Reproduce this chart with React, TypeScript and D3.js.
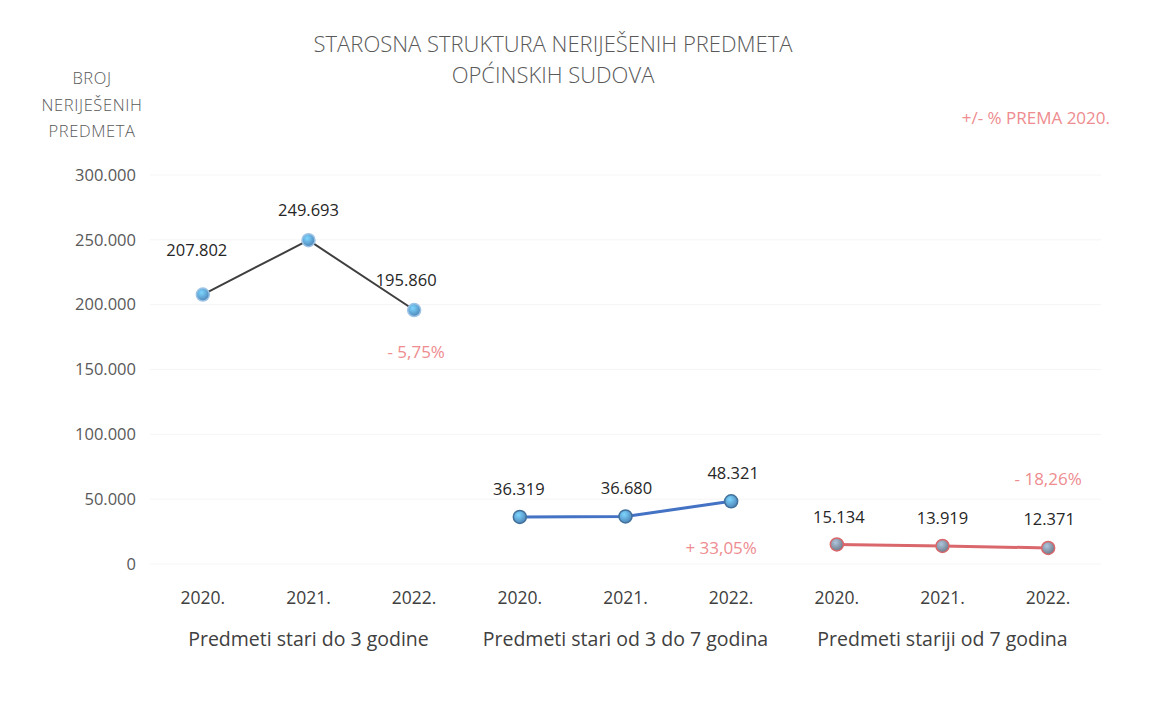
import React, { useEffect, useRef } from 'react'
import * as d3 from 'd3'

const years = ['2020.', '2021.', '2022.']
const groups = ['Predmeti stari do 3 godine', 'Predmeti stari od 3 do 7 godina', 'Predmeti stariji od 7 godina']
const groupValues = [
  [207802, 249693, 195860],
  [36319, 36680, 48321],
  [15134, 13919, 12371],
]
const changes = ['- 5,75%', '+ 33,05%', '- 18,26%']
const yTicks = [0, 50000, 100000, 150000, 200000, 250000, 300000]

const lineColors = ['#3f3f3f', '#4472c4', '#d9676b']
const markerFill = ['#5b9bd5', '#5b9bd5', '#7f8fa0']
const markerStroke = ['#9dc3e6', '#41719c', '#d9676b']

const W = 1150
const H = 711
const fmt = (v: number) => d3.format(',')(v).replace(/,/g, '.')

const App = () => {
  const svgRef = useRef<SVGSVGElement>(null)

  useEffect(() => {
    const svg = d3.select(svgRef.current)
    svg.selectAll('*').remove()
    const font = '"Open Sans", sans-serif'

    const keys = groups.flatMap((g, gi) => years.map((yr) => `${gi}-${yr}`))
    const x = d3.scalePoint<string>().domain(keys).range([150, 1101]).padding(0.5)
    const y = d3.scaleLinear().domain([0, 300000]).range([564, 175])

    // title
    svg
      .append('g')
      .selectAll('text')
      .data(['STAROSNA STRUKTURA NERIJEŠENIH PREDMETA', 'OPĆINSKIH SUDOVA'])
      .join('text')
      .attr('x', 553)
      .attr('y', (d, i) => 52 + i * 31)
      .attr('text-anchor', 'middle')
      .attr('font-family', font)
      .attr('font-weight', 300)
      .attr('font-size', 22)
      .attr('fill', '#595959')
      .text((d) => d)

    // y axis title
    svg
      .append('g')
      .selectAll('text')
      .data(['BROJ', 'NERIJEŠENIH', 'PREDMETA'])
      .join('text')
      .attr('x', 92)
      .attr('y', (d, i) => 84 + i * 26.5)
      .attr('text-anchor', 'middle')
      .attr('font-family', font)
      .attr('font-weight', 300)
      .attr('font-size', 16.5)
      .attr('letter-spacing', 0.6)
      .attr('fill', '#595959')
      .text((d) => d)

    svg
      .append('text')
      .attr('x', 1110)
      .attr('y', 124)
      .attr('text-anchor', 'end')
      .attr('font-family', font)
      .attr('font-size', 17)
      .attr('fill', '#ee8c8f')
      .text('+/- % PREMA 2020.')

    // gridlines
    svg
      .append('g')
      .selectAll('line')
      .data(yTicks)
      .join('line')
      .attr('x1', 150)
      .attr('x2', 1101)
      .attr('y1', (d) => y(d))
      .attr('y2', (d) => y(d))
      .attr('stroke', '#f5f5f5')

    // y tick labels
    svg
      .append('g')
      .selectAll('text')
      .data(yTicks)
      .join('text')
      .attr('x', 136)
      .attr('y', (d) => y(d))
      .attr('dy', '0.35em')
      .attr('text-anchor', 'end')
      .attr('font-family', font)
      .attr('font-size', 16.5)
      .attr('fill', '#595959')
      .text((d) => (d === 0 ? '0' : fmt(d)))

    // x labels
    svg
      .append('g')
      .selectAll('text')
      .data(keys)
      .join('text')
      .attr('x', (d) => x(d)!)
      .attr('y', 604)
      .attr('text-anchor', 'middle')
      .attr('font-family', font)
      .attr('font-size', 17.5)
      .attr('fill', '#404040')
      .text((d) => d.split('-')[1])

    svg
      .append('g')
      .selectAll('text')
      .data(groups)
      .join('text')
      .attr('x', (d, gi) => x(`${gi}-${years[1]}`)!)
      .attr('y', 646)
      .attr('text-anchor', 'middle')
      .attr('font-family', font)
      .attr('font-size', 19.5)
      .attr('fill', '#404040')
      .text((d) => d)

    const defs = svg.append('defs')
    markerFill.forEach((c, i) => {
      const grad = defs
        .append('radialGradient')
        .attr('id', `mk${i}`)
        .attr('cx', '40%')
        .attr('cy', '35%')
        .attr('r', '65%')
      grad.append('stop').attr('offset', '0%').attr('stop-color', d3.color(c)!.brighter(0.9).formatHex())
      grad.append('stop').attr('offset', '100%').attr('stop-color', d3.color(c)!.darker(0.4).formatHex())
    })

    const line = d3
      .line<[string, number]>()
      .x((d) => x(d[0])!)
      .y((d) => y(d[1]))

    // label offsets relative to each point
    const labelDy = [
      [-44, -30, -30],
      [-28, -28, -28],
      [-27, -28, -29],
    ]
    const labelDx = [
      [-6, 0, -8],
      [-1, 1, 2],
      [2, 0, 1],
    ]

    groupValues.forEach((vals, gi) => {
      const pts: [string, number][] = vals.map((v, i) => [`${gi}-${years[i]}`, v])
      const g = svg.append('g')
      g.append('path')
        .attr('d', line(pts))
        .attr('fill', 'none')
        .attr('stroke', lineColors[gi])
        .attr('stroke-width', gi === 0 ? 2 : 3)
      g.selectAll('circle')
        .data(pts)
        .join('circle')
        .attr('cx', (d) => x(d[0])!)
        .attr('cy', (d) => y(d[1]))
        .attr('r', 6.5)
        .attr('fill', `url(#mk${gi})`)
        .attr('stroke', markerStroke[gi])
        .attr('stroke-width', 1.5)
      g.selectAll('text.val')
        .data(pts)
        .join('text')
        .attr('class', 'val')
        .attr('x', (d, i) => x(d[0])! + labelDx[gi][i])
        .attr('y', (d, i) => y(d[1]) + labelDy[gi][i])
        .attr('dy', '0.35em')
        .attr('text-anchor', 'middle')
        .attr('font-family', font)
        .attr('font-size', 16.5)
        .attr('fill', '#262626')
        .text((d) => fmt(d[1]))
    })

    // percentage change labels, offset from last point of each group
    const changeDx = [2, -10, 0]
    const changeDy = [42, 47, -69]
    changes.forEach((c, gi) => {
      const last = groupValues[gi][2]
      svg
        .append('text')
        .attr('x', x(`${gi}-${years[2]}`)! + changeDx[gi])
        .attr('y', y(last) + changeDy[gi])
        .attr('dy', '0.35em')
        .attr('text-anchor', 'middle')
        .attr('font-family', font)
        .attr('font-size', 17)
        .attr('fill', '#ee8c8f')
        .text(c)
    })
  }, [])

  return (
    <svg ref={svgRef} width={W} height={H} style={{ display: 'block', margin: '-8px', background: '#fff' }} />
  )
}

export default App
